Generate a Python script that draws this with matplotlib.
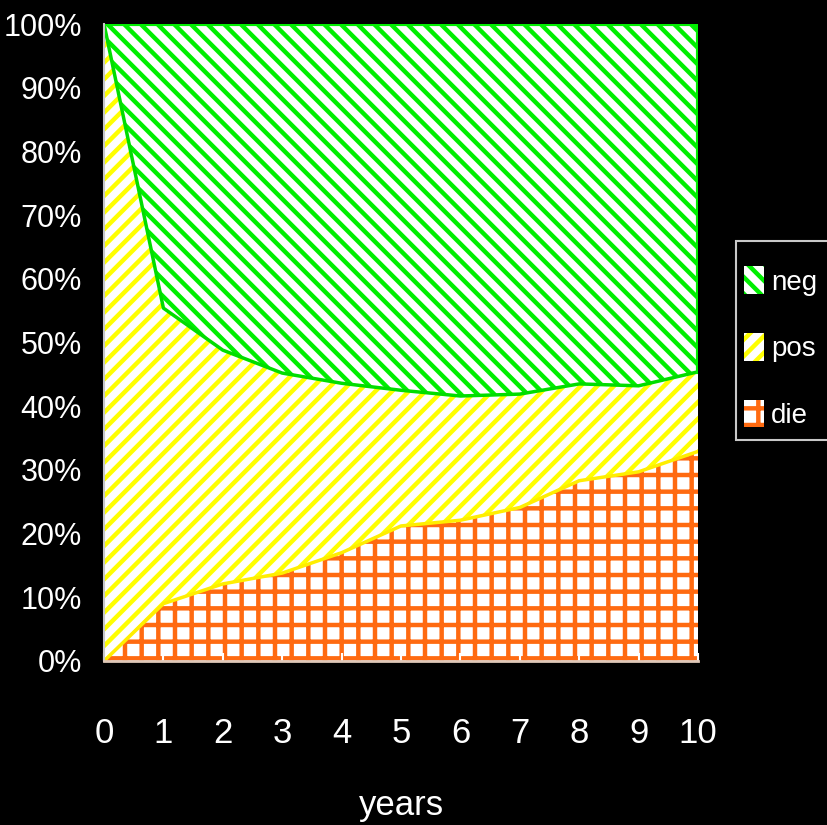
import matplotlib
matplotlib.use("Agg")
import matplotlib.pyplot as plt
from matplotlib.patches import Rectangle
import numpy as np

# Share of each outcome per year (percent, stacked bottom to top)
years = [0, 1, 2, 3, 4, 5, 6, 7, 8, 9, 10]
die = [0, 9.0, 12.1, 13.8, 17.0, 21.2, 22.1, 24.1, 28.3, 29.7, 32.9]
pos = [100, 46.4, 36.7, 31.4, 26.6, 21.3, 19.5, 17.8, 15.2, 13.5, 12.5]
neg = [0, 44.6, 51.2, 54.8, 56.4, 57.5, 58.4, 58.1, 56.5, 56.8, 54.6]

y_ticks = [0, 10, 20, 30, 40, 50, 60, 70, 80, 90, 100]
y_labels = [f"{v}%" for v in y_ticks]

plt.rcParams["font.family"] = ["Liberation Sans", "DejaVu Sans"]
plt.rcParams["hatch.linewidth"] = 3.2

W, H = 827, 825
fig = plt.figure(figsize=(8.27, 8.25), dpi=100, facecolor="black")
ax = fig.add_axes([104 / W, 1 - 661 / H, 594 / W, 637 / H])
ax.set_facecolor("black")

die_top = np.array(die)
pos_top = die_top + np.array(pos)
neg_top = pos_top + np.array(neg)

ax.fill_between(years, 0, die_top, facecolor="white", edgecolor="#ff6a10",
                hatch="+", linewidth=0, label="die")
ax.fill_between(years, die_top, pos_top, facecolor="white", edgecolor="#ffff00",
                hatch="//", linewidth=0, label="pos")
ax.fill_between(years, pos_top, neg_top, facecolor="white", edgecolor="#00ee00",
                hatch="\\\\", linewidth=0, label="neg")

# boundary lines between the stacked bands
ax.plot(years, die_top, color="#ffee00", lw=2.5)
ax.plot(years, pos_top, color="#00dd00", lw=2.5)
ax.plot(years, neg_top, color="#00ee00", lw=3)
ax.plot([10, 10], [pos_top[-1], 100], color="#00ee00", lw=3)

ax.set_xlim(0, 10)
ax.set_ylim(0, 100)

ax.set_xticks(years)
ax.set_xticklabels([str(v) for v in years])
ax.set_yticks(y_ticks)
ax.set_yticklabels(y_labels)
ax.tick_params(axis="y", length=0, pad=16, labelsize=22, labelcolor="white")
ax.tick_params(axis="x", direction="in", length=6, width=1.5, color="white",
               pad=40, labelsize=25, labelcolor="white")

for side in ["top", "right"]:
    ax.spines[side].set_visible(False)
ax.spines["left"].set_color("#c8c8c8")
ax.spines["left"].set_linewidth(1.5)
ax.spines["bottom"].set_color("#e0c8b8")
ax.spines["bottom"].set_linewidth(2)

fig.text(401 / W, 1 - 806 / H, "years", color="white", fontsize=25,
         ha="center", va="center")

# legend box runs off the right edge of the figure
fig.patches.append(Rectangle((736 / W, 1 - 440 / H), 120 / W, 199 / H,
                             transform=fig.transFigure, facecolor="black",
                             edgecolor="#c8c8c8", linewidth=1.5, zorder=0))

handles, labels = ax.get_legend_handles_labels()
leg = fig.legend(handles[::-1], labels[::-1], loc="upper left",
                 bbox_to_anchor=(736 / W, 1 - 258 / H), borderaxespad=0,
                 fontsize=20, handlelength=0.72, handleheight=1.15,
                 handletextpad=0.25, labelspacing=1.35, borderpad=0.3,
                 frameon=False)
for t in leg.get_texts():
    t.set_color("white")

fig.savefig("out.png", dpi=100, facecolor="black")
